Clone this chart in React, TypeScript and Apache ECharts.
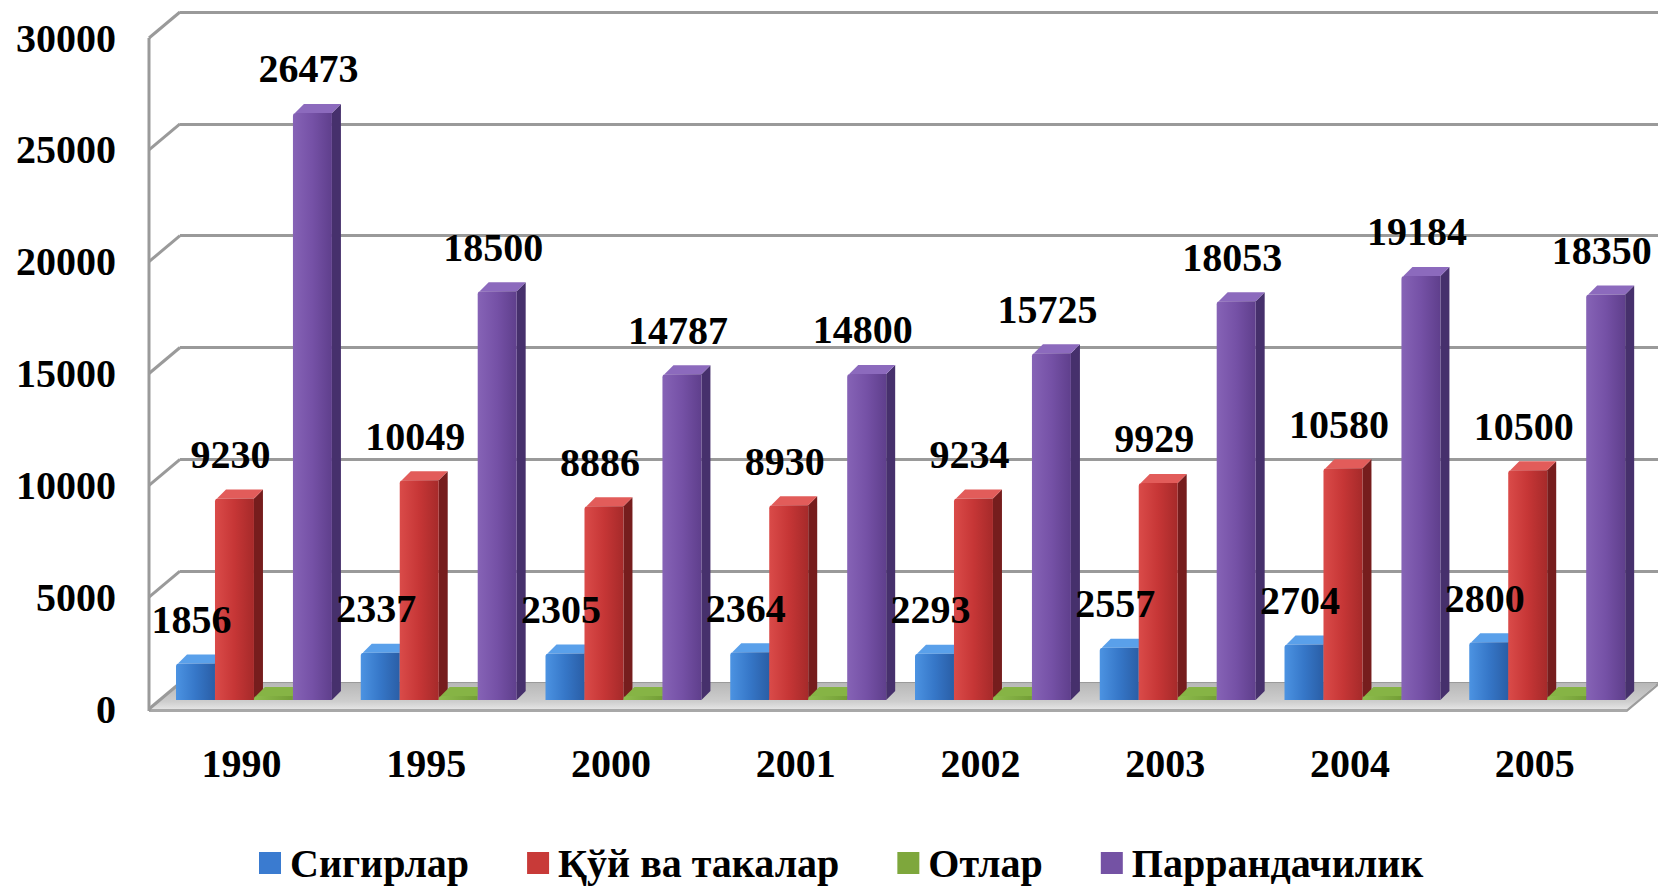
import React, { useEffect, useRef } from "react";
import * as echarts from "echarts";

const categories = ["1990", "1995", "2000", "2001", "2002", "2003", "2004", "2005"];
const cows = [1856, 2337, 2305, 2364, 2293, 2557, 2704, 2800];
const sheepGoats = [9230, 10049, 8886, 8930, 9234, 9929, 10580, 10500];
const horses = [150, 150, 150, 150, 150, 150, 150, 150];
const poultry = [26473, 18500, 14787, 14800, 15725, 18053, 19184, 18350];
const yTicks = [0, 5000, 10000, 15000, 20000, 25000, 30000];

const seriesNames = ["Сигирлар", "Қўй ва такалар", "Отлар", "Паррандачилик"];
const seriesData = [cows, sheepGoats, horses, poultry];
const showLabel = [true, true, false, true];

const palette = [
  { base: "#3a7bd0", front: ["#4c93e2", "#3677c8", "#2a5ea6"], side: "#1f4780", top: "#5aa0ea" },
  { base: "#c83a38", front: ["#da4b49", "#c63636", "#a62a2a"], side: "#761d1d", top: "#e25c5a" },
  { base: "#7ea73c", front: ["#8fbd4e", "#739e36"], side: "#4f7024", top: "#86b445" },
  { base: "#7452a4", front: ["#8663b6", "#7551a6", "#5f3f8c"], side: "#46306c", top: "#8c6abd" },
];

const FONT = "'Liberation Serif', 'Times New Roman', serif";
const DEPTH_X = 31;
const DEPTH_Y = -26;
const OY = -9;
const DX = 9;
const DY = -9;

function grad(stops: string[]) {
  return new echarts.graphic.LinearGradient(
    0, 0, 1, 0,
    stops.map((c, i) => ({ offset: stops.length === 1 ? 0 : i / (stops.length - 1), color: c }))
  );
}

function barGeom(api: any, sIdx: number) {
  const c = api.value(0);
  const v = api.value(1);
  const p = api.coord([c, v]);
  const p0 = api.coord([c, 0]);
  const catW = api.size([1, 0])[0];
  const slot = catW * 0.211;
  const left = p[0] - catW / 2 + 27 + sIdx * slot;
  const right = left + slot;
  const base = p0[1] + OY;
  const top = Math.min(p[1] - 4, base - 4);
  return { left, right, base, top, slot };
}

function makeBarSeries(sIdx: number) {
  const col = palette[sIdx];
  return {
    type: "custom",
    name: seriesNames[sIdx],
    xAxisIndex: 0,
    yAxisIndex: 0,
    z: 3,
    itemStyle: { color: col.base },
    data: seriesData[sIdx].map((v, i) => [i, v]),
    encode: { x: 0, y: 1 },
    renderItem: (params: any, api: any) => {
      const g = barGeom(api, sIdx);
      const { left, right, base, top } = g;
      return {
        type: "group",
        children: [
          {
            type: "polygon",
            shape: { points: [[right, top], [right + DX, top + DY], [right + DX, base + DY], [right, base]] },
            style: { fill: col.side },
          },
          {
            type: "polygon",
            shape: { points: [[left + 2, top], [right, top], [right + DX, top + DY], [left + DX + 2, top + DY]] },
            style: { fill: col.top },
          },
          {
            type: "rect",
            shape: { x: left, y: top, width: right - left, height: base - top, r: [3, 0, 0, 0] },
            style: { fill: grad(col.front) },
          },
        ],
      };
    },
  };
}

function makeLabelSeries() {
  const items: any[] = [];
  seriesData.forEach((arr, s) => {
    if (!showLabel[s]) return;
    arr.forEach((v, i) => items.push([i, v, s]));
  });
  return {
    type: "custom",
    name: "labels",
    xAxisIndex: 0,
    yAxisIndex: 0,
    z: 6,
    silent: true,
    data: items,
    encode: { x: 0, y: 1 },
    renderItem: (params: any, api: any) => {
      const s = api.value(2);
      const g = barGeom(api, s);
      return {
        type: "text",
        style: {
          x: (g.left + g.right) / 2 - 4,
          y: g.top - 44,
          text: String(api.value(1)),
          fill: "#000",
          font: `bold 40px ${FONT}`,
          align: "center",
          verticalAlign: "middle",
        },
      };
    },
  };
}

function makeFrameSeries() {
  return {
    type: "custom",
    name: "frame",
    xAxisIndex: 0,
    yAxisIndex: 0,
    z: 1,
    silent: true,
    data: [[0, 0]],
    encode: { x: 0, y: 1 },
    renderItem: (params: any, api: any) => {
      const cs = params.coordSys;
      const x0 = cs.x;
      const x1 = cs.x + cs.width;
      const yb = api.coord([0, 0])[1];
      const children: any[] = [];
      children.push({
        type: "polygon",
        shape: { points: [[x0, yb], [x1, yb], [x1 + DEPTH_X, yb + DEPTH_Y], [x0 + DEPTH_X, yb + DEPTH_Y]] },
        style: {
          fill: new echarts.graphic.LinearGradient(0, 0, 0, 1, [
            { offset: 0, color: "#b8b8b8" },
            { offset: 0.7, color: "#cdcdcd" },
            { offset: 1, color: "#e4e4e4" },
          ]),
        },
      });
      children.push({
        type: "polygon",
        shape: { points: [[x0, yb], [x1, yb], [x1, yb + 3], [x0, yb + 3]] },
        style: { fill: "#a8a8a8" },
      });
      children.push({
        type: "polygon",
        shape: { points: [[x1, yb], [x1 + DEPTH_X, yb + DEPTH_Y], [x1 + DEPTH_X, yb + DEPTH_Y + 3], [x1, yb + 3]] },
        style: { fill: "#9c9c9c" },
      });
      const yTop = api.coord([0, yTicks[yTicks.length - 1]])[1];
      children.push({
        type: "line",
        shape: { x1: x0, y1: yTop, x2: x0, y2: yb + 2 },
        style: { stroke: "#9a9a9a", lineWidth: 3 },
      });
      yTicks.forEach((t) => {
        const y = api.coord([0, t])[1];
        children.push({
          type: "line",
          shape: { x1: x0, y1: y, x2: x0 + DEPTH_X, y2: y + DEPTH_Y },
          style: { stroke: "#9a9a9a", lineWidth: 3 },
        });
      });
      return { type: "group", children };
    },
  };
}

export default function App() {
  const ref = useRef<HTMLDivElement>(null);
  useEffect(() => {
    if (!ref.current) return;
    const chart = echarts.init(ref.current, undefined, { renderer: "svg" });
    const option: any = {
      animation: false,
      backgroundColor: "#ffffff",
      grid: [
        { left: 149, right: 33, top: 38, bottom: 178 },
        { left: 149 + DEPTH_X, right: 33 - DEPTH_X, top: 38 + DEPTH_Y, bottom: 178 - DEPTH_Y },
      ],
      xAxis: [
        {
          type: "category",
          gridIndex: 0,
          data: categories,
          boundaryGap: true,
          axisLine: { show: false },
          axisTick: { show: false },
          axisLabel: { margin: 34, color: "#000", fontFamily: FONT, fontWeight: "bold", fontSize: 40 },
        },
        {
          type: "category",
          gridIndex: 1,
          data: categories,
          show: false,
        },
      ],
      yAxis: [
        {
          type: "value",
          gridIndex: 0,
          min: 0,
          max: 30000,
          interval: 5000,
          axisLine: { show: false },
          axisTick: { show: false },
          splitLine: { show: false },
          axisLabel: {
            margin: 33,
            color: "#000",
            fontFamily: FONT,
            fontWeight: "bold",
            fontSize: 40,
            formatter: (v: number) => String(v),
          },
        },
        {
          type: "value",
          gridIndex: 1,
          min: 0,
          max: 30000,
          interval: 5000,
          axisLine: { show: false },
          axisTick: { show: false },
          axisLabel: { show: false },
          splitLine: { show: true, lineStyle: { color: "#9a9a9a", width: 3 } },
        },
      ],
      legend: {
        data: seriesNames,
        left: 254,
        top: 838,
        icon: "rect",
        itemWidth: 22,
        itemHeight: 22,
        itemGap: 58,
        textStyle: { color: "#000", fontFamily: FONT, fontWeight: "bold", fontSize: 40, padding: [0, 0, 0, 4] },
      },
      series: [
        makeFrameSeries(),
        makeBarSeries(0),
        makeBarSeries(1),
        makeBarSeries(2),
        makeBarSeries(3),
        makeLabelSeries(),
      ],
    };
    chart.setOption(option);
    return () => chart.dispose();
  }, []);
  return <div ref={ref} style={{ position: "fixed", left: 0, top: 0, width: 1660, height: 887 }} />;
}
